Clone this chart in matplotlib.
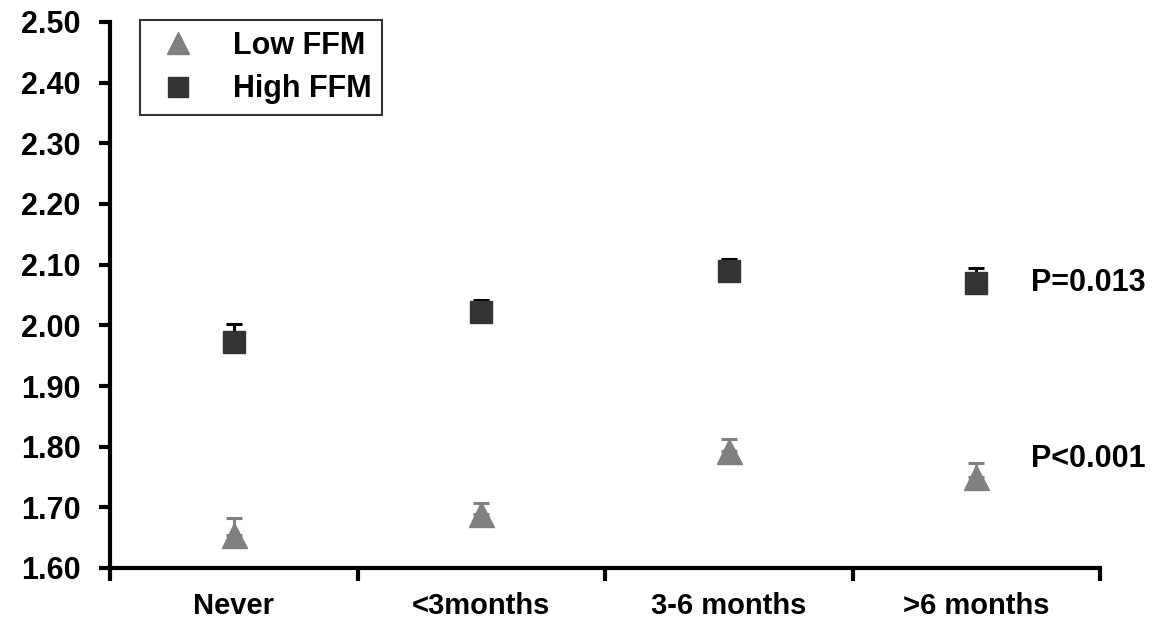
import numpy as np
import matplotlib.pyplot as plt

plt.rcParams['font.family'] = ['Liberation Sans', 'DejaVu Sans']
plt.rcParams['font.weight'] = 'bold'

categories = ["Never", "<3months", "3-6 months", ">6 months"]
low_ffm = [1.654, 1.689, 1.793, 1.75]
low_err = [0.028, 0.018, 0.02, 0.023]
high_ffm = [1.972, 2.022, 2.09, 2.07]
high_err = [0.031, 0.02, 0.02, 0.025]
y_ticks = [1.6, 1.7, 1.8, 1.9, 2.0, 2.1, 2.2, 2.3, 2.4, 2.5]
p_labels = ["P=0.013", "P<0.001"]
p_levels = [2.07, 1.78]

fig = plt.figure(figsize=(11.64, 6.21), dpi=100)
ax = fig.add_axes([110 / 1164, 53 / 621, 990 / 1164, 546 / 621])

x = np.arange(len(categories))

ax.errorbar(x, low_ffm, yerr=[np.zeros(4), low_err], fmt='none', ecolor='#808080',
            elinewidth=2.2, capsize=5.5, capthick=2.2)
ax.errorbar(x, high_ffm, yerr=[np.zeros(4), high_err], fmt='none', ecolor='black',
            elinewidth=2.2, capsize=5.5, capthick=2.2)
ax.plot(x, low_ffm, linestyle='none', marker='^', markersize=18, color='#808080',
        label="Low FFM")
ax.plot(x, high_ffm, linestyle='none', marker='s', markersize=15.5, color='#333333',
        label="High FFM")

ax.set_xlim(-0.5, 3.5)
ax.set_ylim(1.6, 2.5)
ax.set_yticks(y_ticks)
ax.set_yticklabels([f"{v:.2f}" for v in y_ticks])
ax.set_xticks(x)
ax.set_xticklabels(categories)
ax.set_xticks(np.arange(-0.5, 3.6, 1.0), minor=True)
ax.tick_params(axis='x', which='major', length=0, pad=17, labelsize=21)
ax.tick_params(axis='x', which='minor', length=9, width=3, direction='out')
ax.tick_params(axis='y', length=8, width=3, direction='out', labelsize=22, pad=13)

for side in ['top', 'right']:
    ax.spines[side].set_visible(False)
for side in ['left', 'bottom']:
    ax.spines[side].set_linewidth(3)

for lbl, lev in zip(p_labels, p_levels):
    ax.text(3.22, lev, lbl, fontsize=22, fontweight='bold', va='center', ha='left')

leg = ax.legend(loc='upper left', bbox_to_anchor=(0.03, 1.004), borderaxespad=0,
                frameon=True, fancybox=False, edgecolor='black', handletextpad=0.9,
                borderpad=0.35, labelspacing=0.45, handlelength=1.8,
                markerscale=0.9, prop={'weight': 'bold', 'size': 22})
leg.get_frame().set_linewidth(1.5)

fig.savefig("out.png", dpi=100)
